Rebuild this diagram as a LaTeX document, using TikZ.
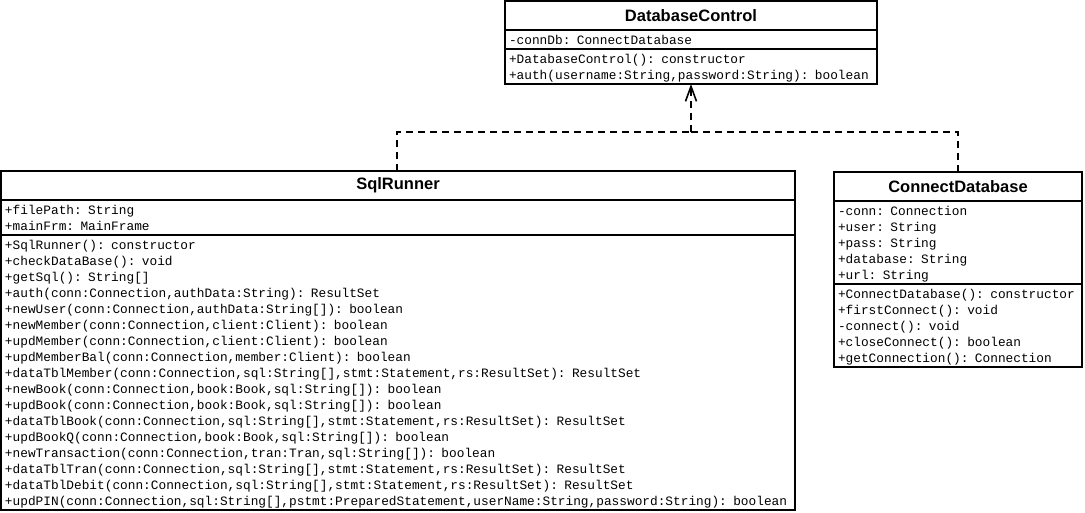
\documentclass[tikz,border=0pt]{standalone}
\usepackage{fontspec}
\setmainfont{Liberation Sans}
\setmonofont{Liberation Mono}
\usepackage{tikz}
\usetikzlibrary{positioning,arrows.meta}

\tikzset{
  classname/.style={draw, line width=1.6pt, outer sep=0pt, inner sep=0pt,
    minimum height=29pt, font=\fontsize{16.5}{18}\selectfont\bfseries},
  compart/.style={draw, line width=1.6pt, outer sep=0pt, inner xsep=4pt, inner ysep=1.5pt,
    align=left, font=\ttfamily\fontsize{12.8}{16}\selectfont,
    execute at begin node=\rule{0pt}{13pt}, execute at end node=\rule[-3pt]{0pt}{3pt}},
  realize/.style={line width=1.6pt, dash pattern=on 7pt off 5pt},
}

\begin{document}
\begin{tikzpicture}[x=1pt, y=1pt]
    \useasboundingbox (0,0) rectangle (1085,-512);

    % DatabaseControl
    \node[classname, minimum width=372pt, anchor=north west] (dbc) at (505,-1) {DatabaseControl};
    \node[compart, text width=364pt, below=0pt of dbc] (dbc-attr) {-connDb: ConnectDatabase};
    \node[compart, text width=364pt, below=0pt of dbc-attr] (dbc-meth) {+DatabaseControl(): constructor\\
      +auth(username:String,password:String): boolean};

    % SqlRunner
    \node[classname, minimum width=794pt, anchor=north west] (sql) at (1,-171) {SqlRunner};
    \node[compart, text width=786pt, below=0pt of sql] (sql-attr) {+filePath: String\\
      +mainFrm: MainFrame};
    \node[compart, text width=786pt, below=0pt of sql-attr] (sql-meth) {+SqlRunner(): constructor\\
      +checkDataBase(): void\\
      +getSql(): String[]\\
      +auth(conn:Connection,authData:String): ResultSet\\
      +newUser(conn:Connection,authData:String[]): boolean\\
      +newMember(conn:Connection,client:Client): boolean\\
      +updMember(conn:Connection,client:Client): boolean\\
      +updMemberBal(conn:Connection,member:Client): boolean\\
      +dataTblMember(conn:Connection,sql:String[],stmt:Statement,rs:ResultSet): ResultSet\\
      +newBook(conn:Connection,book:Book,sql:String[]): boolean\\
      +updBook(conn:Connection,book:Book,sql:String[]): boolean\\
      +dataTblBook(conn:Connection,sql:String[],stmt:Statement,rs:ResultSet): ResultSet\\
      +updBookQ(conn:Connection,book:Book,sql:String[]): boolean\\
      +newTransaction(conn:Connection,tran:Tran,sql:String[]): boolean\\
      +dataTblTran(conn:Connection,sql:String[],stmt:Statement,rs:ResultSet): ResultSet\\
      +dataTblDebit(conn:Connection,sql:String[],stmt:Statement,rs:ResultSet): ResultSet\\
      +updPIN(conn:Connection,sql:String[],pstmt:PreparedStatement,userName:String,password:String): boolean};

    % ConnectDatabase
    \node[classname, minimum width=248pt, anchor=north west] (cdb) at (834,-172) {ConnectDatabase};
    \node[compart, text width=240pt, below=0pt of cdb] (cdb-attr) {-conn: Connection\\
      +user: String\\
      +pass: String\\
      +database: String\\
      +url: String};
    \node[compart, text width=240pt, below=0pt of cdb-attr] (cdb-meth) {+ConnectDatabase(): constructor\\
      +firstConnect(): void\\
      -connect(): void\\
      +closeConnect(): boolean\\
      +getConnection(): Connection};

    % realizations
    \coordinate (join) at (691,-132);
    \draw[realize] (sql.north -| 397,0) |- (join);
    \draw[realize] (cdb.north -| 958,0) |- (join);
    \draw[realize, -{Straight Barb[length=15pt, width=11pt, line width=1.6pt]}] (join) -- (dbc-meth.south -| join);
\end{tikzpicture}
\end{document}
